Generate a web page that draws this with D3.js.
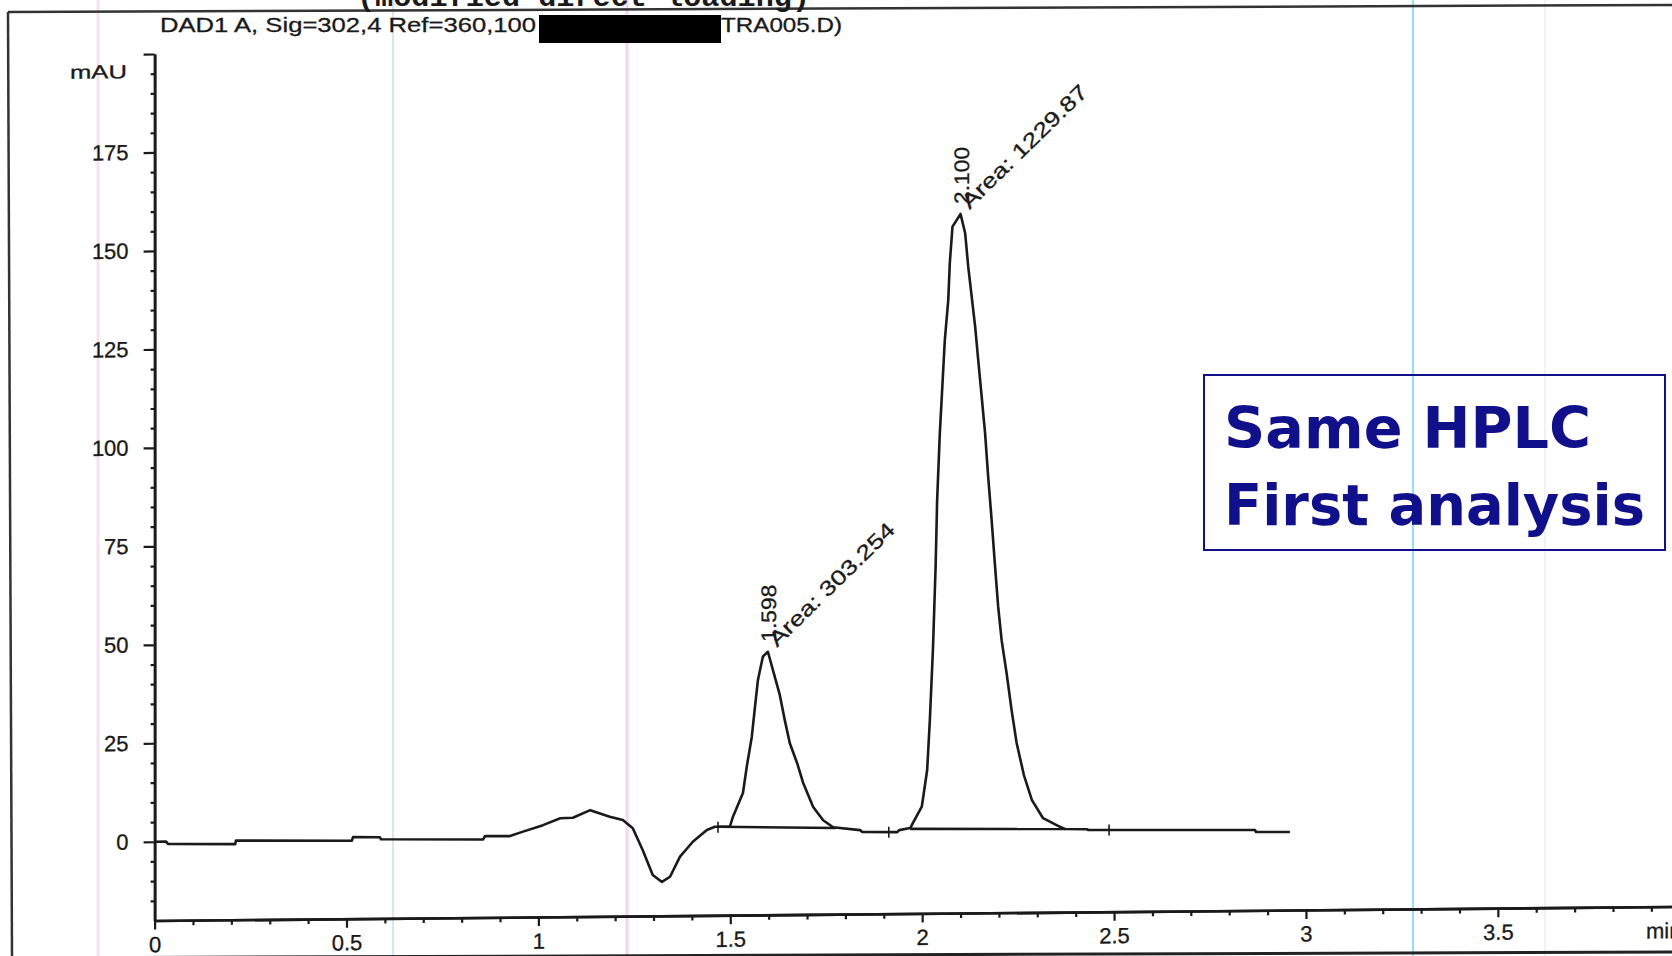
<!DOCTYPE html>
<html>
<head>
<meta charset="utf-8">
<script src="https://cdn.jsdelivr.net/npm/d3@7/dist/d3.min.js"></script>
<style>
  html, body { margin: 0; padding: 0; background: #ffffff; }
  svg { display: block; }
</style>
</head>
<body>
<svg id="chart" width="1672" height="956"></svg>
<script>
// ---------------- data ----------------
const headerText = "DAD1 A, Sig=302,4 Ref=360,100";
const headerTail = "TRA005.D)";
const cutTitle = "(modified direct loading)";
const yLabel = "mAU";
const xUnit = "min";
const annotationLines = ["Same HPLC", "First analysis"];

const yTickValues = [0, 25, 50, 75, 100, 125, 150, 175, 200];
const yTickLabels = ["0", "25", "50", "75", "100", "125", "150", "175", ""];
const xTickValues = [0, 0.5, 1, 1.5, 2, 2.5, 3, 3.5];
const xTickLabels = ["0", "0.5", "1", "1.5", "2", "2.5", "3", "3.5"];

// retention time (min)
const times = [0, 0.030, 0.035, 0.210, 0.212, 0.514, 0.517, 0.587, 0.590, 0.856,
  0.861, 0.926, 0.960, 1.012, 1.057, 1.090, 1.135, 1.186, 1.220, 1.246,
  1.272, 1.298, 1.322, 1.343, 1.369, 1.403, 1.439, 1.460, 1.499, 1.507,
  1.533, 1.543, 1.556, 1.564, 1.572, 1.585, 1.598, 1.611, 1.629, 1.642,
  1.655, 1.674, 1.690, 1.716, 1.742, 1.768, 1.838, 1.844, 1.935, 1.940,
  1.969, 1.976, 1.999, 2.013, 2.020, 2.028, 2.035, 2.039, 2.046, 2.053,
  2.059, 2.068, 2.072, 2.079, 2.100, 2.112, 2.120, 2.129, 2.138, 2.146,
  2.155, 2.164, 2.172, 2.181, 2.190, 2.198, 2.207, 2.220, 2.233, 2.246,
  2.265, 2.286, 2.315, 2.354, 2.372, 2.430, 2.432, 2.867, 2.870, 2.958];
// absorbance (mAU)
const signal = [0.0, 0.0, -0.6, -0.8, 0.1, -0.2, 0.7, 0.6, 0.1, -0.2,
  0.7, 0.6, 1.7, 3.3, 5.0, 5.1, 7.0, 5.3, 4.4, 2.3,
  -3.3, -9.6, -11.4, -10.1, -5.0, -1.2, 1.7, 2.5, 2.5, 5.0,
  11.0, 17.7, 25.2, 32.5, 39.6, 45.6, 46.8, 42.2, 35.8, 29.4,
  23.6, 18.5, 13.4, 7.3, 3.9, 2.1, 1.3, 0.8, 0.7, 1.2,
  1.7, 3.0, 7.1, 16.4, 29.1, 46.9, 68.0, 84.9, 101.9, 114.6,
  125.5, 135.7, 145.1, 154.3, 157.5, 152.6, 144.1, 136.5, 128.9, 120.4,
  111.1, 101.7, 90.7, 79.7, 67.8, 57.7, 49.2, 40.8, 31.4, 23.1,
  14.9, 8.5, 3.9, 1.9, 1.1, 1.0, 0.8, 0.4, -0.1, -0.2];

// integrated peaks
const peakTimes = [1.598, 2.100];
const peakHeights = [46.8, 157.5];
const peakRTLabels = ["1.598", "2.100"];
const peakAreaLabels = ["Area: 303.254", "Area: 1229.87"];
const baseStartT = [1.468, 1.969];
const baseStartV = [2.5, 1.5];
const baseEndT = [1.775, 2.372];
const baseEndV = [1.9, 1.1];
// integration event markers
const markTimes = [1.468, 1.913, 2.487];
const markLevels = [2.5, 0.8, 0.9];

// ---------------- layout ----------------
const W = 1672, H = 956;
const svg = d3.select("#chart");
const ink = "#1a1a1a";
const hpFont = "'Liberation Sans', Arial, sans-serif";

const x = d3.scaleLinear().domain([0, 3.96]).range([154.6, 1674.4]);
const y = d3.scaleLinear().domain([-20, 200]).range([920.5, 54]);

// scanner artefact lines (background)
const artefacts = [
  {x: 98, c: "#f7e1ee", w: 3},
  {x: 393, c: "#d3e8f6", w: 2},
  {x: 627, c: "#f6d6ec", w: 3},
  {x: 1413, c: "#8fe3f0", w: 2},
  {x: 1545, c: "#eef3f6", w: 2}
];
svg.selectAll("line.art").data(artefacts).enter().append("line")
  .attr("x1", d => d.x).attr("x2", d => d.x).attr("y1", 0).attr("y2", H)
  .attr("stroke", d => d.c).attr("stroke-width", d => d.w);

// page frame (scan edges)
svg.append("line").attr("x1", 8).attr("y1", 12).attr("x2", W).attr("y2", 5)
  .attr("stroke", "#333").attr("stroke-width", 2.5);
svg.append("line").attr("x1", 8).attr("y1", 12).attr("x2", 12).attr("y2", H)
  .attr("stroke", "#333").attr("stroke-width", 2.5);
svg.append("line").attr("x1", 0).attr("y1", 958).attr("x2", W).attr("y2", 952)
  .attr("stroke", "#222").attr("stroke-width", 3);

// cut-off title at very top
svg.append("text").attr("x", 357).attr("y", 6)
  .attr("font-family", "'Liberation Mono', 'Courier New', monospace")
  .attr("font-weight", "bold").attr("font-size", 30).attr("fill", ink)
  .attr("textLength", 453).attr("lengthAdjust", "spacingAndGlyphs")
  .text(cutTitle);

// header
svg.append("text").attr("x", 160).attr("y", 32)
  .attr("font-family", hpFont).attr("font-size", 21).attr("fill", ink)
  .attr("stroke", ink).attr("stroke-width", 0.3)
  .attr("textLength", 376).attr("lengthAdjust", "spacingAndGlyphs")
  .text(headerText);
svg.append("rect").attr("x", 539).attr("y", 15).attr("width", 182).attr("height", 28)
  .attr("fill", "#000");
svg.append("text").attr("x", 721).attr("y", 32)
  .attr("font-family", hpFont).attr("font-size", 21).attr("fill", ink)
  .attr("stroke", ink).attr("stroke-width", 0.3)
  .attr("textLength", 121).attr("lengthAdjust", "spacingAndGlyphs")
  .text(headerTail);

// plot group with slight scan skew
const x0 = x(0);
const g = svg.append("g")
  .attr("transform", `translate(${x0},0) skewY(-0.527) translate(${-x0},0)`);

// y axis
const yAxis = d3.axisLeft(y).tickValues(yTickValues)
  .tickFormat((d, i) => yTickLabels[i]).tickSize(11).tickSizeOuter(0).tickPadding(15);
const yMinor = d3.axisLeft(y)
  .tickValues(d3.range(-15, 200, 5).filter(v => v % 25 !== 0))
  .tickFormat("").tickSize(4).tickSizeOuter(0);
g.append("g").attr("transform", `translate(${x0},0)`).call(yAxis);
g.append("g").attr("transform", `translate(${x0},0)`).call(yMinor);

// x axis
const xAxis = d3.axisBottom(x).tickValues(xTickValues)
  .tickFormat((d, i) => xTickLabels[i]).tickSize(9).tickSizeOuter(0).tickPadding(7);
const xMinor = d3.axisBottom(x)
  .tickValues(d3.range(1, 40).map(k => k / 10).filter(v => Math.abs(v * 2 - Math.round(v * 2)) > 1e-6))
  .tickFormat("").tickSize(5).tickSizeOuter(0);
g.append("g").attr("transform", `translate(0,${y(-20)})`).call(xAxis);
g.append("g").attr("transform", `translate(0,${y(-20)})`).call(xMinor);

g.selectAll(".domain").attr("stroke", ink).attr("stroke-width", 2.6);
g.selectAll(".tick line").attr("stroke", ink).attr("stroke-width", 2.2);
g.selectAll(".tick text").attr("font-family", hpFont).attr("font-size", 22)
  .attr("fill", ink).attr("stroke", ink).attr("stroke-width", 0.3);

// y unit label
g.append("text").attr("x", 127).attr("y", 78).attr("text-anchor", "end")
  .attr("font-family", hpFont).attr("font-size", 19).attr("fill", ink)
  .attr("stroke", ink).attr("stroke-width", 0.3)
  .attr("textLength", 57).attr("lengthAdjust", "spacingAndGlyphs")
  .text(yLabel);
// x unit label (cut at page edge)
g.append("text").attr("x", 1646).attr("y", y(-20) + 9 + 7).attr("dy", "0.71em")
  .attr("font-family", hpFont).attr("font-size", 22).attr("fill", ink)
  .attr("stroke", ink).attr("stroke-width", 0.3)
  .text(xUnit);

// integration baselines
g.selectAll("line.base").data(baseStartT).enter().append("line")
  .attr("x1", (d, i) => x(d)).attr("y1", (d, i) => y(baseStartV[i]))
  .attr("x2", (d, i) => x(baseEndT[i])).attr("y2", (d, i) => y(baseEndV[i]))
  .attr("stroke", ink).attr("stroke-width", 2.6);

// event markers
g.selectAll("line.mark").data(markTimes).enter().append("line")
  .attr("x1", d => x(d)).attr("x2", d => x(d))
  .attr("y1", (d, i) => y(markLevels[i]) - 5).attr("y2", (d, i) => y(markLevels[i]) + 6)
  .attr("stroke", ink).attr("stroke-width", 1.6);

// chromatogram trace
const pts = times.map((t, i) => ({t, v: signal[i]}));
g.append("path").datum(pts)
  .attr("d", d3.line().x(d => x(d.t)).y(d => y(d.v)))
  .attr("fill", "none").attr("stroke", ink).attr("stroke-width", 2.6)
  .attr("stroke-linejoin", "round");

// peak labels
peakTimes.forEach((t, i) => {
  const px = x(t), py = y(peakHeights[i]);
  g.append("text")
    .attr("transform", `translate(${px + 8},${py - 10}) rotate(-90)`)
    .attr("font-family", hpFont).attr("font-size", 21).attr("fill", ink)
    .attr("stroke", ink).attr("stroke-width", 0.3)
    .attr("textLength", 57).attr("lengthAdjust", "spacingAndGlyphs")
    .text(peakRTLabels[i]);
  g.append("text")
    .attr("transform", `translate(${px + 9},${py - 4}) rotate(-44)`)
    .attr("font-family", hpFont).attr("font-size", 21).attr("fill", ink)
    .attr("stroke", ink).attr("stroke-width", 0.3)
    .attr("textLength", 166).attr("lengthAdjust", "spacingAndGlyphs")
    .text(peakAreaLabels[i]);
});

// annotation box
const navy = "#10108a";
svg.append("rect").attr("x", 1204).attr("y", 375).attr("width", 461).attr("height", 175)
  .attr("fill", "none").attr("stroke", navy).attr("stroke-width", 2);
const annY = [448, 525];
const annW = [367, 421];
annotationLines.forEach((s, i) => {
  svg.append("text").attr("x", 1224).attr("y", annY[i])
    .attr("font-family", "'DejaVu Sans', Verdana, sans-serif").attr("font-weight", "bold")
    .attr("font-size", 57).attr("fill", navy)
    .attr("textLength", annW[i]).attr("lengthAdjust", "spacingAndGlyphs")
    .text(s);
});
</script>
</body>
</html>
